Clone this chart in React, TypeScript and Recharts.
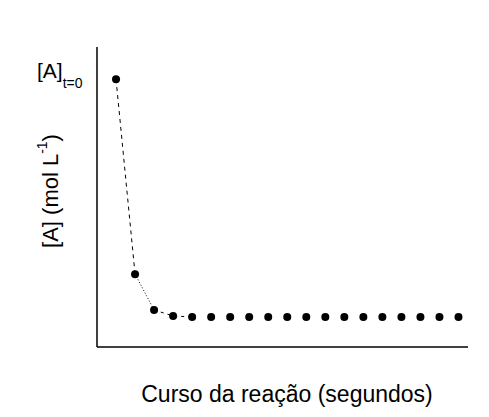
import { ComposedChart, Line, XAxis, YAxis, Customized } from "recharts";

const timeSteps = [0, 1, 2, 3, 4, 5, 6, 7, 8, 9, 10, 11, 12, 13, 14, 15, 16, 17, 18];
const concentration = [1.0, 0.272, 0.138, 0.116, 0.112, 0.112, 0.112, 0.112, 0.112, 0.112, 0.112, 0.112, 0.112, 0.112, 0.112, 0.112, 0.112, 0.112, 0.112];

// segments of the connecting line, each with its own dash style
const dashedStart = [0, 1];
const dottedMid = [1, 2];
const dashedEnd = [2, 3, 4];

const pick = (idx: number[], i: number) => (idx.includes(i) ? concentration[i] : null);

const data = timeSteps.map((t, i) => ({
    t,
    conc: concentration[i],
    seg1: pick(dashedStart, i),
    seg2: pick(dottedMid, i),
    seg3: pick(dashedEnd, i),
}));

const font = "'Liberation Sans', Arial, sans-serif";

function Labels() {
    return (
        <g fontFamily={font} fill="#000">
            <text x={29} y={70} fontSize={21}>
                [A]
                <tspan fontSize={14} dy={10}>t=0</tspan>
            </text>
            <text
                x={50}
                y={183}
                fontSize={22}
                textAnchor="middle"
                transform="rotate(-90 50 183)"
            >
                [A] (mol L
                <tspan fontSize={14} dy={-11}>-1</tspan>
                <tspan dy={11}>)</tspan>
            </text>
            <text x={279} y={394} fontSize={23} textAnchor="middle">
                Curso da reação (segundos)
            </text>
        </g>
    );
}

export default function App() {
    return (
        <ComposedChart
            width={473}
            height={400}
            data={data}
            margin={{ top: 39, right: 13, bottom: 60, left: 88 }}
        >
            <XAxis
                dataKey="t"
                type="number"
                domain={[-1, 18.5]}
                tick={false}
                tickLine={false}
                height={1}
                stroke="#000"
                strokeWidth={1.5}
            />
            <YAxis
                type="number"
                domain={[0, 1.12]}
                tick={false}
                tickLine={false}
                width={1}
                stroke="#000"
                strokeWidth={1.5}
            />
            <Line dataKey="seg1" stroke="#000" strokeDasharray="4 4" dot={false} isAnimationActive={false} connectNulls={false} />
            <Line dataKey="seg2" stroke="#000" strokeDasharray="1 2" dot={false} isAnimationActive={false} connectNulls={false} />
            <Line dataKey="seg3" stroke="#000" strokeDasharray="3 4" dot={false} isAnimationActive={false} connectNulls={false} />
            <Line
                dataKey="conc"
                stroke="none"
                dot={{ r: 4, fill: "#000", stroke: "none" }}
                isAnimationActive={false}
            />
            <Customized component={<Labels />} />
        </ComposedChart>
    );
}
